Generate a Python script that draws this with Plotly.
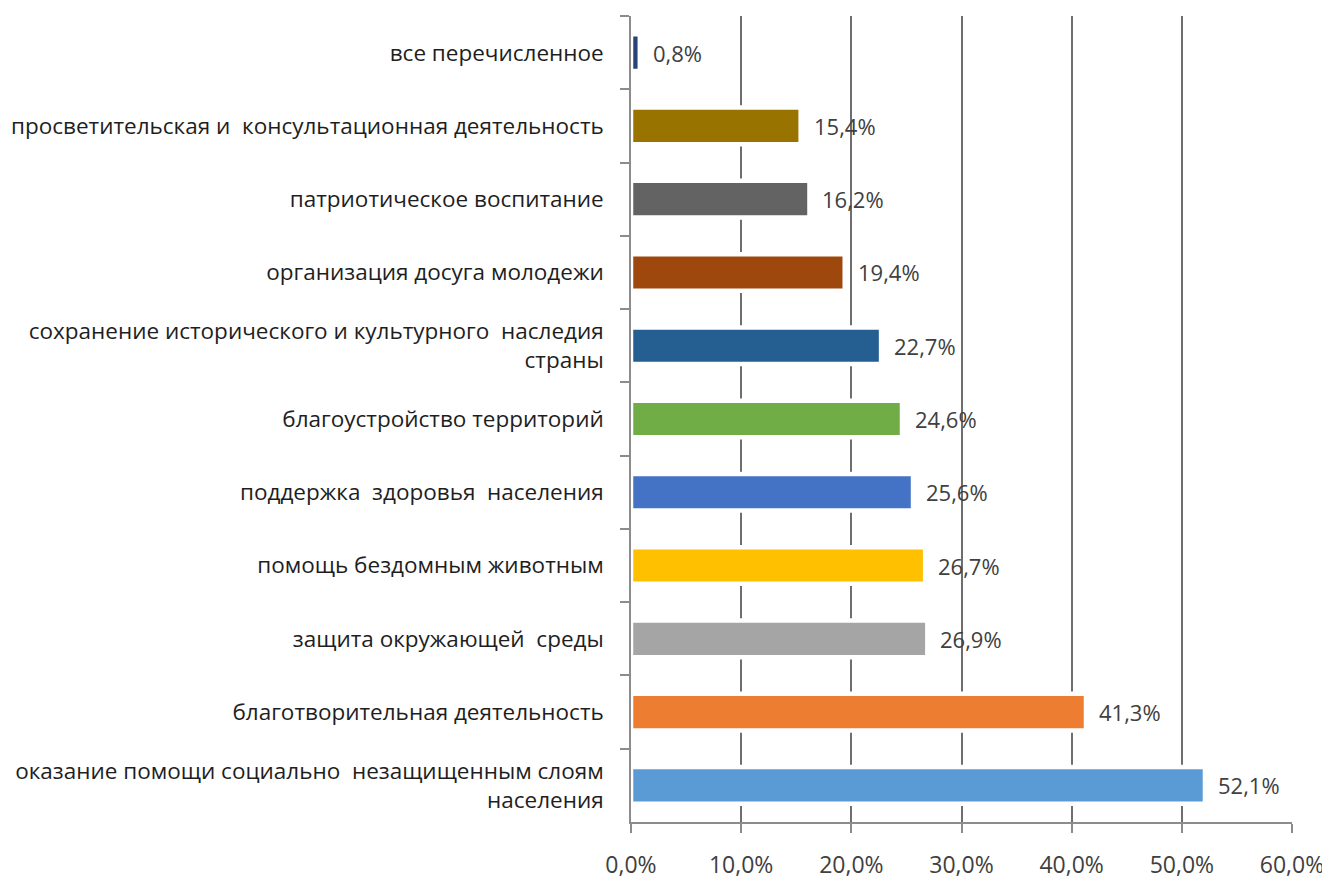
import plotly.graph_objects as go

categories = [
    "все перечисленное",
    "просветительская и  консультационная деятельность",
    "патриотическое воспитание",
    "организация досуга молодежи",
    "сохранение исторического и культурного  наследия<br>страны",
    "благоустройство территорий",
    "поддержка  здоровья  населения",
    "помощь бездомным животным",
    "защита окружающей  среды",
    "благотворительная деятельность",
    "оказание помощи социально  незащищенным слоям<br>населения",
]
values = [0.8, 15.4, 16.2, 19.4, 22.7, 24.6, 25.6, 26.7, 26.9, 41.3, 52.1]
colors = ["#264478", "#997300", "#636363", "#9E480E", "#255E91", "#70AD47",
          "#4472C4", "#FFC000", "#A5A5A5", "#ED7D31", "#5B9BD5"]
tick_vals = [0, 10, 20, 30, 40, 50, 60]
tick_text = ["0,0%", "10,0%", "20,0%", "30,0%", "40,0%", "50,0%", "60,0%"]

FONT = "Open Sans"

fig = go.Figure()
fig.add_trace(go.Bar(
    x=values, y=categories, orientation="h",
    marker=dict(color=colors, line=dict(color="white", width=4.5)),
    width=0.5,
    hoverinfo="skip",
))

for c, v in zip(categories, values):
    fig.add_annotation(
        x=v, y=c, text=f"{v:.1f}%".replace(".", ","),
        showarrow=False, xanchor="left", xshift=11,
        font=dict(family=FONT, size=22, color="#404040"),
    )

fig.update_layout(
    width=1322, height=871,
    margin=dict(l=623, r=38, t=8, b=57),
    paper_bgcolor="white", plot_bgcolor="white",
    showlegend=False,
    font=dict(family=FONT, size=22.5, color="#1e1e1e"),
    bargap=0.5,
)
fig.update_xaxes(
    range=[0, 60], tickvals=tick_vals, ticktext=tick_text,
    showgrid=True, gridcolor="#6e6e6e", gridwidth=1.5,
    showline=True, linecolor="#8c8c8c", linewidth=1.5,
    ticks="outside", ticklen=9, tickcolor="#8c8c8c", tickwidth=1.5,
    ticklabelstandoff=13,
    tickfont=dict(family=FONT, size=23, color="#404040"),
    zeroline=False, fixedrange=True, automargin=False,
)
fig.update_yaxes(
    autorange="reversed",
    showline=True, linecolor="#8c8c8c", linewidth=1.5,
    ticks="outside", ticklen=9, tickcolor="#8c8c8c", tickwidth=1.5,
    tickson="boundaries", ticklabelstandoff=21,
    tickfont=dict(family=FONT, size=22.5, color="#1e1e1e"),
    showgrid=False, fixedrange=True, automargin=False,
)

fig.write_html("out.html")
